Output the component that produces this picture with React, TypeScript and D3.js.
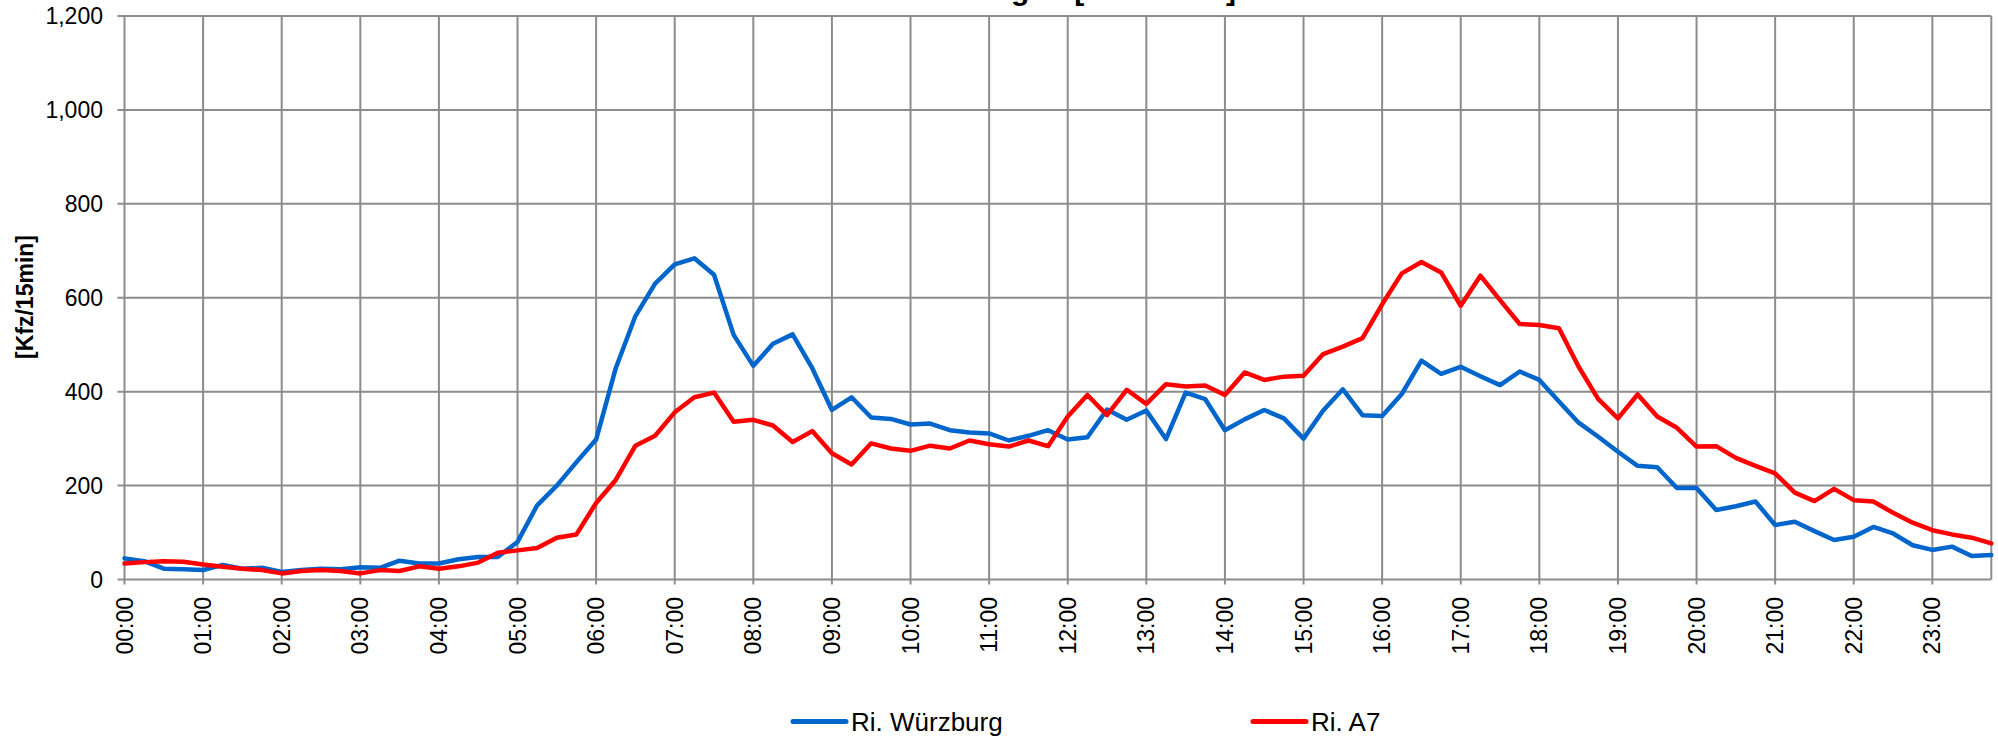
import React from "react";
import * as d3 from "d3";

const hourLabels = [
  "00:00", "01:00", "02:00", "03:00", "04:00", "05:00", "06:00", "07:00",
  "08:00", "09:00", "10:00", "11:00", "12:00", "13:00", "14:00", "15:00",
  "16:00", "17:00", "18:00", "19:00", "20:00", "21:00", "22:00", "23:00",
];
const quarters = ["00", "15", "30", "45"];
const times = hourLabels.flatMap((h) => quarters.map((q) => h.slice(0, 3) + q));

const wuerzburg = [
  45, 39, 23, 22,
  20, 31, 23, 25,
  16, 20, 23, 22,
  26, 25, 40, 34,
  34, 43, 48, 48,
  80, 158, 200, 250,
  298, 450, 561, 630,
  671, 684, 649, 521,
  455, 502, 522, 450,
  361, 388, 345, 342,
  330, 332, 318, 313,
  311, 296, 306, 318,
  298, 303, 362, 340,
  360, 299, 398, 384,
  318, 341, 361, 343,
  300, 360, 405, 350,
  348, 395, 466, 438,
  453, 433, 414, 443,
  425, 379, 334, 304,
  272, 242, 239, 195,
  195, 148, 156, 166,
  116, 123, 103, 84,
  91, 112, 98, 73,
  63, 70, 50, 52,
];

const a7 = [
  34, 37, 39, 38,
  32, 27, 23, 20,
  13, 18, 20, 18,
  13, 20, 18, 28,
  23, 28, 36, 57,
  62, 67, 89, 96,
  163, 212, 285, 306,
  356, 388, 398, 336,
  340, 328, 293, 316,
  269, 245, 290, 279,
  274, 285, 279, 296,
  288, 283, 296, 284,
  347, 393, 350, 404,
  374, 416, 411, 413,
  393, 441, 425, 432,
  434, 480, 496, 514,
  586, 652, 676, 654,
  583, 647, 595, 544,
  542, 535, 453, 384,
  343, 394, 347, 323,
  283, 284, 259, 242,
  226, 185, 167, 193,
  169, 166, 142, 121,
  105, 96, 89, 77,
];

const yTicks = [0, 200, 400, 600, 800, 1000, 1200];
const seriesNames = ["Ri. Würzburg", "Ri. A7"];
const seriesColors = ["#0066CC", "#FF0000"];
const titleMain = "Verkehrsstärke Werktag";
const titleUnit = "[Kfz/15min]";

export default function App() {
  const W = 1998;
  const H = 738;
  const left = 124.5;
  const right = 1991.3;
  const top = 16;
  const bottom = 579.5;

  const x = d3.scalePoint<string>().domain(times).range([left, right]);
  const y = d3.scaleLinear().domain([0, 1200]).range([bottom, top]);
  const fmt = d3.format(",");

  const line = d3
    .line<number>()
    .x((_, i) => x(times[i]) as number)
    .y((d) => y(d));

  const series = [wuerzburg, a7];
  const grid = "#8C8C8C";
  const font = "Liberation Sans, Arial, sans-serif";

  const legendItems = [
    { x1: 793, x2: 846, tx: 851 },
    { x1: 1253, x2: 1306, tx: 1311 },
  ];

  return (
    <svg
      width={W}
      height={H}
      style={{ position: "absolute", left: 0, top: 0, background: "#fff" }}
      fontFamily={font}
    >
      <rect x={0} y={0} width={W} height={H} fill="#fff" />
      <text
        x={1236}
        y={0}
        textAnchor="end"
        fontSize={30}
        fontWeight="bold"
        fill="#000"
      >
        {titleMain}
        <tspan dx={45}>{titleUnit}</tspan>
      </text>

      {/* horizontal grid */}
      {yTicks.map((t) => (
        <g key={"y" + t}>
          <line x1={left - 7} x2={right} y1={y(t)} y2={y(t)} stroke={grid} strokeWidth={2} />
          <text
            x={103}
            y={y(t)}
            dy="0.35em"
            textAnchor="end"
            fontSize={23}
            fill="#000"
          >
            {fmt(t)}
          </text>
        </g>
      ))}

      {/* vertical grid */}
      {hourLabels.map((h) => {
        const xp = x(h) as number;
        return (
          <g key={"x" + h}>
            <line x1={xp} x2={xp} y1={top} y2={bottom + 5} stroke={grid} strokeWidth={2} />
            <text
              transform={`translate(${xp},${597}) rotate(-90)`}
              dy="0.35em"
              textAnchor="end"
              fontSize={23}
              fill="#000"
            >
              {h}
            </text>
          </g>
        );
      })}
      <line x1={right} x2={right} y1={top} y2={bottom} stroke={grid} strokeWidth={2} />

      {/* series */}
      {series.map((s, i) => (
        <path
          key={seriesNames[i]}
          d={line(s) || ""}
          fill="none"
          stroke={seriesColors[i]}
          strokeWidth={4.5}
          strokeLinejoin="round"
          strokeLinecap="round"
        />
      ))}

      {/* y title */}
      <text
        transform={`translate(25,297) rotate(-90)`}
        dy="0.35em"
        textAnchor="middle"
        fontSize={23}
        fontWeight="bold"
        fill="#000"
      >
        [Kfz/15min]
      </text>

      {/* legend */}
      {legendItems.map((l, i) => (
        <g key={"lg" + i}>
          <line
            x1={l.x1}
            x2={l.x2}
            y1={721.5}
            y2={721.5}
            stroke={seriesColors[i]}
            strokeWidth={5}
            strokeLinecap="round"
          />
          <text x={l.tx} y={721.5} dy="0.35em" fontSize={26} fill="#000">
            {seriesNames[i]}
          </text>
        </g>
      ))}
    </svg>
  );
}
